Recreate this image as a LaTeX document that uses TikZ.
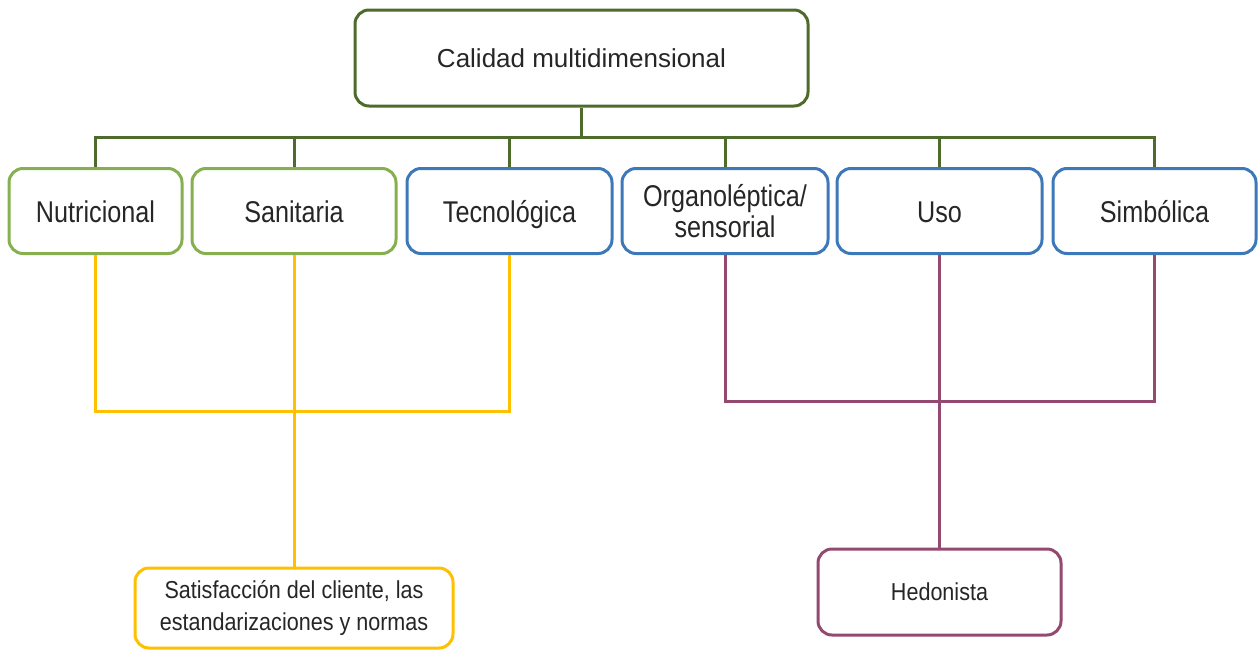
\documentclass[tikz,border=0pt]{standalone}
\usepackage{fontspec}
\setmainfont{Liberation Sans}
\newfontfamily\tallsans[FakeStretch=0.84]{Liberation Sans}
\newfontfamily\smallsans[FakeStretch=0.88]{Liberation Sans}
\usepackage{xcolor}
\usepackage{tikz}
\usetikzlibrary{positioning}

\definecolor{topgreen}{HTML}{4F6B2B}
\definecolor{lightgreen}{HTML}{86B04F}
\definecolor{boxblue}{HTML}{3D79B8}
\definecolor{gold}{HTML}{FFC000}
\definecolor{plum}{HTML}{944A70}

\begin{document}
\begin{tikzpicture}[x=1pt, y=-1pt,
  box/.style={rectangle, rounded corners=14pt, line width=3pt, fill=white,
    align=center, text=black!85, inner sep=2pt,
    font=\fontsize{26}{29}\selectfont},
  dimbox/.style={box, minimum height=85pt,
    font=\tallsans\fontsize{30}{31.5}\selectfont},
  smallbox/.style={box, font=\smallsans\fontsize{24.5}{31.5}\selectfont},
  gline/.style={topgreen, line width=3pt},
  yline/.style={gold, line width=3pt},
  pline/.style={plum, line width=3pt}]

\useasboundingbox (0,0) rectangle (1259,651);

% Define top node
\node[box, draw=topgreen, minimum width=453pt, minimum height=96pt] (cal) at (581.5,58) {Calidad multidimensional};

% Define dimensions
\node[dimbox, draw=lightgreen, minimum width=173pt, text height=22pt, text depth=0pt] (nut) at (95.5,211) {Nutricional};
\node[dimbox, draw=lightgreen, minimum width=204pt, text height=22pt, text depth=0pt] (san) at (294,211) {Sanitaria};
\node[dimbox, draw=boxblue, minimum width=205pt, text height=22pt, text depth=0pt] (tec) at (509.5,211) {Tecnológica};
\node[dimbox, draw=boxblue, minimum width=206pt] (org) at (725,211) {Organoléptica/\\sensorial};
\node[dimbox, draw=boxblue, minimum width=205pt, text height=22pt, text depth=0pt] (uso) at (939.5,211) {Uso};
\node[dimbox, draw=boxblue, minimum width=203pt, text height=22pt, text depth=0pt] (sim) at (1154.5,211) {Simbólica};

% Define outcomes
\node[smallbox, draw=gold, minimum width=318pt, minimum height=80pt] (sat) at (294,608) {Satisfacción del cliente, las\\estandarizaciones y normas};
\node[smallbox, draw=plum, minimum width=243pt, minimum height=86pt] (hed) at (939.5,592) {Hedonista};

\coordinate (bus) at (582,137);
\coordinate (yjoin) at (294,411);
\coordinate (pjoin) at (939.5,401);

% Top tree
\draw[gline] (cal.south) -- (cal.south |- bus);
\draw[gline] (nut.north) |- (sim.north |- bus) -- (sim.north);
\foreach \n in {san, tec, org, uso}
  \draw[gline] (\n.north) -- (\n.north |- bus);

% Yellow branch
\draw[yline] (nut.south) |- (tec.south |- yjoin) -- (tec.south);
\draw[yline] (san.south) -- (sat.north);

% Purple branch
\draw[pline] (org.south) |- (sim.south |- pjoin) -- (sim.south);
\draw[pline] (uso.south) -- (hed.north);

\end{tikzpicture}
\end{document}
